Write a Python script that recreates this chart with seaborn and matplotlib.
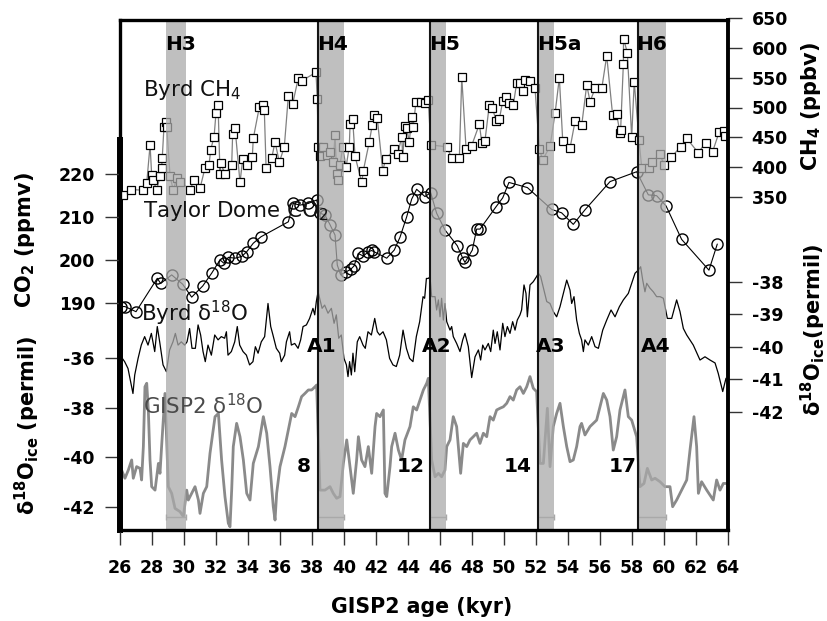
import matplotlib
matplotlib.use("Agg")
import matplotlib.pyplot as plt
import seaborn as sns
import pandas as pd

# ------------------------------------------------------------------ data
ch4_age = [26.21, 26.67, 27.42, 27.67, 27.88, 27.98, 28.08, 28.29, 28.50, 28.60,
           28.64, 28.75, 28.86, 28.92, 29.13, 29.33, 29.54, 29.75, 30.38, 30.64,
           31.00, 31.31, 31.56, 31.67, 31.88, 32.00, 32.13, 32.25, 32.29, 32.56,
           32.98, 33.04, 33.19, 33.50, 33.67, 33.92, 34.27, 34.33, 34.71, 34.92,
           35.02, 35.13, 35.48, 35.69, 35.96, 36.27, 36.52, 36.79, 37.14, 37.36,
           38.25, 38.33, 38.39, 38.50, 38.71, 38.92, 39.13, 39.33, 39.44, 39.54,
           39.64, 39.75, 39.92, 40.13, 40.33, 40.38, 40.54, 40.69, 41.11, 41.21,
           41.58, 41.77, 41.89, 42.08, 42.42, 42.61, 43.14, 43.36, 43.61, 43.67,
           43.81, 43.92, 44.08, 44.23, 44.33, 44.50, 44.79, 45.06, 45.27, 45.42,
           46.42, 46.73, 47.21, 47.36, 47.63, 47.98, 48.46, 48.61, 48.81, 49.08,
           49.27, 49.50, 49.71, 49.92, 50.11, 50.31, 50.58, 50.79, 51.00, 51.21,
           51.31, 51.63, 51.94, 52.21, 52.42, 52.88, 53.19, 53.46, 53.67, 54.13,
           54.44, 54.86, 55.17, 55.38, 55.69, 56.11, 56.42, 56.79, 57.04, 57.25,
           57.29, 57.46, 57.47, 57.71, 57.98, 58.14, 58.44, 58.61, 59.06, 59.27,
           59.75, 60.00, 60.44, 61.04, 61.42, 62.14, 62.61, 63.04, 63.44, 63.75,
           63.81]
ch4_ppbv = [353, 362, 361, 373, 437, 386, 378, 361, 384, 398,
            415, 468, 476, 467, 384, 361, 381, 375, 362, 378,
            364, 398, 403, 429, 451, 491, 504, 388, 407, 388,
            403, 455, 466, 374, 413, 403, 417, 448, 501, 505,
            495, 399, 415, 442, 408, 434, 519, 506, 549, 545,
            559, 514, 434, 418, 433, 420, 426, 409, 454, 389,
            378, 403, 433, 400, 434, 472, 481, 418, 374, 394,
            442, 471, 487, 482, 394, 413, 430, 422, 451, 417,
            469, 465, 442, 484, 468, 510, 510, 508, 513, 437,
            434, 415, 415, 551, 430, 436, 472, 441, 444, 504,
            500, 478, 480, 511, 518, 507, 504, 541, 541, 527,
            546, 544, 532, 430, 412, 435, 490, 550, 444, 432,
            477, 471, 538, 510, 532, 532, 587, 487, 489, 457,
            463, 573, 616, 592, 450, 543, 445, 398, 398, 409,
            421, 404, 416, 434, 448, 424, 441, 426, 458, 461,
            452]

co2_age = [26.04, 26.31, 27.00, 28.33, 28.54, 29.23, 29.92, 30.48, 31.17, 31.73,
           32.25, 32.50, 32.77, 33.19, 33.60, 33.92, 34.33, 34.81, 36.52, 36.83,
           37.25, 37.77, 38.29, 38.50, 38.81, 39.13, 39.44, 39.58, 39.79, 40.13,
           40.42, 40.63, 40.89, 41.21, 41.52, 41.73, 41.88, 42.67, 43.14, 43.50,
           43.92, 44.23, 44.54, 45.06, 45.42, 45.79, 46.31, 47.08, 47.42, 47.56,
           48.02, 48.29, 48.50, 49.50, 49.92, 50.31, 51.46, 52.98, 53.60, 54.33,
           55.06, 56.63, 58.29, 59.02, 59.54, 60.13, 61.10, 62.81, 63.33]
co2_ppmv = [189.1, 189.1, 187.9, 195.7, 194.5, 196.5, 194.3, 191.3, 193.9, 196.9,
            200.0, 199.2, 200.6, 200.4, 200.8, 201.9, 203.9, 205.4, 208.9, 213.2,
            212.8, 213.2, 214.0, 210.9, 210.5, 208.2, 205.8, 198.8, 196.5, 197.2,
            197.8, 198.6, 201.5, 200.9, 201.9, 202.2, 201.9, 200.4, 202.3, 205.3,
            210.1, 214.2, 216.5, 214.8, 215.7, 210.9, 207.0, 203.3, 200.4, 199.4,
            202.3, 207.2, 207.2, 212.4, 214.5, 218.1, 216.9, 211.8, 211.0, 208.3,
            211.7, 218.3, 220.6, 215.2, 215.0, 212.6, 204.8, 197.6, 203.7]

byrd_age = [26.00, 26.29, 26.50, 26.81, 26.92, 27.13, 27.33, 27.54, 27.75, 27.96,
            28.17, 28.33, 28.48, 28.69, 28.90, 29.10, 29.31, 29.46, 29.63, 29.83,
            30.04, 30.19, 30.35, 30.50, 30.71, 30.88, 31.04, 31.19, 31.33, 31.50,
            31.71, 31.92, 32.13, 32.33, 32.54, 32.65, 32.75, 32.96, 33.17, 33.33,
            33.48, 33.69, 33.90, 34.10, 34.31, 34.46, 34.63, 34.83, 35.04, 35.25,
            35.42, 35.56, 35.77, 35.98, 36.08, 36.29, 36.40, 36.60, 36.71, 36.92,
            37.13, 37.29, 37.44, 37.65, 37.85, 38.06, 38.17, 38.27, 38.38, 38.48,
            38.63, 38.79, 39.00, 39.21, 39.38, 39.52, 39.67, 39.83, 40.00, 40.15,
            40.25, 40.35, 40.46, 40.56, 40.67, 40.83, 40.98, 41.19, 41.33, 41.50,
            41.71, 41.92, 42.08, 42.23, 42.44, 42.65, 42.85, 43.06, 43.27, 43.48,
            43.69, 43.90, 44.10, 44.31, 44.52, 44.73, 44.94, 45.04, 45.15, 45.27,
            45.375, 45.48, 45.69, 45.79, 45.90, 46.00, 46.10, 46.21, 46.31, 46.42,
            46.625, 46.73, 46.83, 47.04, 47.25, 47.42, 47.56, 47.77, 47.98, 48.19,
            48.40, 48.54, 48.67, 48.81, 49.02, 49.17, 49.33, 49.44, 49.58, 49.75,
            49.92, 50.06, 50.21, 50.375, 50.54, 50.69, 50.83, 51.00, 51.10, 51.25,
            51.375, 51.46, 51.625, 51.83, 52.04, 52.15, 52.29, 52.50, 52.67, 52.875,
            53.08, 53.29, 53.50, 53.71, 53.92, 54.125, 54.23, 54.375, 54.54, 54.71,
            54.85, 54.96, 55.06, 55.27, 55.48, 55.69, 55.90, 56.17, 56.42, 56.69,
            56.94, 57.21, 57.46, 57.77, 57.98, 58.19, 58.40, 58.54, 58.67, 58.81,
            58.92, 59.125, 59.33, 59.54, 59.75, 59.96, 60.21, 60.48, 60.79, 61.00,
            61.21, 61.42, 61.83, 62.25, 62.56, 62.875, 63.19, 63.39, 63.67, 63.875]
byrd_d18o = [-40.26, -40.46, -40.67, -41.44, -40.87, -40.36, -39.95, -39.69, -39.95, -39.59,
             -40.15, -39.38, -39.85, -40.56, -40.77, -40.10, -39.85, -39.59, -39.95, -39.85,
             -39.95, -39.85, -39.44, -40.05, -40.05, -39.33, -39.64, -40.15, -40.46, -39.95,
             -40.26, -39.64, -39.79, -39.69, -39.74, -39.54, -40.26, -40.15, -39.85, -39.38,
             -39.95, -40.15, -40.26, -40.56, -40.46, -40.00, -40.20, -39.85, -39.69, -38.67,
             -39.38, -39.64, -40.05, -40.20, -40.46, -40.26, -39.85, -39.54, -39.95, -39.90,
             -40.05, -39.79, -39.38, -39.33, -39.13, -38.82, -39.02, -38.61, -38.31, -38.51,
             -38.82, -38.72, -38.97, -38.82, -39.28, -39.02, -39.74, -39.64, -40.36, -40.56,
             -40.92, -40.46, -40.87, -40.20, -40.77, -39.85, -39.69, -39.95, -40.05, -39.54,
             -39.64, -39.13, -39.54, -39.64, -39.54, -39.79, -40.36, -40.56, -40.61, -40.26,
             -39.49, -40.05, -40.36, -40.46, -39.69, -39.23, -38.46, -38.51, -37.90, -37.90,
             -37.85, -38.46, -38.46, -38.87, -38.56, -39.08, -38.51, -39.18, -38.67, -39.23,
             -39.49, -39.38, -39.69, -39.90, -40.15, -39.79, -39.59, -40.00, -40.95, -40.31,
             -40.10, -40.41, -39.95, -40.10, -39.90, -40.15, -39.49, -39.90, -39.54, -40.10,
             -39.28, -39.69, -39.38, -39.59, -39.23, -39.49, -39.18, -39.02, -38.87, -38.10,
             -38.36, -39.08, -38.10, -38.00, -37.84, -37.74, -37.84, -38.26, -38.61, -38.67,
             -38.92, -39.08, -38.77, -38.36, -37.95, -38.26, -38.67, -38.46, -39.18, -39.59,
             -39.79, -40.15, -39.79, -39.95, -39.69, -40.00, -40.05, -39.49, -39.18, -38.87,
             -39.08, -38.77, -38.56, -38.36, -38.05, -37.74, -37.64, -37.54, -37.95, -38.31,
             -38.05, -38.20, -38.31, -38.46, -38.46, -38.51, -39.13, -39.13, -38.56, -38.92,
             -39.44, -39.64, -39.95, -40.41, -40.31, -40.41, -40.50, -40.82, -41.38, -40.97]

gisp_age = [26.10, 26.31, 26.52, 26.73, 26.83, 27.04, 27.25, 27.35, 27.46, 27.56,
            27.67, 27.77, 27.875, 27.98, 28.19, 28.40, 28.50, 28.60, 28.81, 29.02,
            29.23, 29.44, 29.75, 29.96, 30.17, 30.27, 30.48, 30.69, 30.90, 31.00,
            31.21, 31.42, 31.625, 31.94, 32.15, 32.35, 32.56, 32.77, 32.875, 32.98,
            33.08, 33.29, 33.50, 33.71, 33.92, 34.125, 34.33, 34.65, 34.96, 35.17,
            35.375, 35.58, 35.69, 35.79, 36.00, 36.31, 36.52, 36.73, 36.94, 37.15,
            37.35, 37.56, 37.77, 37.98, 38.19, 38.29, 38.50, 38.81, 39.125, 39.33,
            39.54, 39.75, 39.96, 40.17, 40.375, 40.58, 40.79, 40.90, 41.10, 41.31,
            41.52, 41.73, 41.94, 42.04, 42.25, 42.46, 42.56, 42.67, 42.875, 42.98,
            43.19, 43.40, 43.60, 43.81, 44.125, 44.33, 44.54, 44.75, 44.96, 45.17,
            45.27, 45.48, 45.69, 45.90, 46.10, 46.31, 46.42, 46.625, 46.83, 47.04,
            47.15, 47.29, 47.46, 47.67, 47.875, 48.08, 48.29, 48.50, 48.71, 48.92,
            49.125, 49.33, 49.54, 49.75, 49.96, 50.17, 50.375, 50.58, 50.79, 51.00,
            51.21, 51.42, 51.625, 51.83, 52.04, 52.25, 52.46, 52.71, 52.875, 53.08,
            53.29, 53.50, 53.71, 53.92, 54.125, 54.33, 54.54, 54.75, 54.85, 55.06,
            55.375, 55.79, 56.00, 56.21, 56.42, 56.625, 56.83, 57.04, 57.25, 57.56,
            57.77, 57.98, 58.29, 58.50, 58.75, 58.96, 59.23, 59.44, 59.75, 60.06,
            60.375, 60.54, 60.79, 61.10, 61.42, 61.625, 61.875, 62.04, 62.15, 62.35,
            62.67, 63.08, 63.29, 63.50, 63.71, 63.92]
gisp_d18o = [-40.52, -40.85, -40.52, -40.11, -40.85, -40.38, -40.45, -40.92, -39.57, -37.15,
             -37.01, -38.09, -40.11, -41.19, -41.33, -40.25, -40.65, -39.57, -37.42, -41.19,
             -41.46, -42.07, -42.20, -42.40, -41.33, -41.73, -41.46, -41.19, -41.73, -42.27,
             -41.46, -41.19, -39.84, -38.36, -38.23, -40.11, -41.59, -42.67, -42.81, -41.33,
             -39.57, -38.63, -39.17, -40.11, -41.46, -41.73, -40.25, -39.57, -38.36, -39.03,
             -40.38, -42.00, -42.54, -41.46, -40.38, -39.57, -38.90, -38.23, -38.36, -37.96,
             -37.55, -37.42, -37.28, -37.28, -37.15, -37.08, -41.33, -41.33, -41.19, -41.46,
             -41.66, -41.59, -40.25, -39.30, -40.38, -41.46, -40.11, -39.17, -40.11, -40.38,
             -39.57, -40.65, -38.76, -38.23, -38.36, -38.09, -41.46, -41.59, -40.38, -39.57,
             -39.03, -39.71, -40.11, -39.30, -38.76, -37.96, -38.09, -37.69, -37.28, -37.01,
             -36.81, -40.11, -40.79, -40.65, -40.79, -40.52, -39.57, -39.30, -38.36, -38.76,
             -39.57, -40.65, -39.44, -39.57, -39.30, -39.17, -39.03, -39.44, -39.03, -39.17,
             -38.36, -38.50, -38.09, -38.02, -37.96, -37.82, -37.55, -37.69, -37.28, -37.15,
             -37.42, -37.15, -36.74, -37.21, -37.35, -40.25, -40.25, -38.02, -40.38, -38.76,
             -38.23, -37.82, -38.76, -39.57, -40.18, -40.11, -39.57, -38.76, -38.63, -39.10,
             -38.76, -38.50, -37.96, -37.42, -37.69, -38.36, -39.71, -39.17, -38.09, -37.28,
             -38.36, -38.50, -39.17, -41.19, -41.06, -40.45, -40.92, -40.85, -40.99, -41.19,
             -41.19, -42.00, -41.73, -41.33, -40.92, -39.71, -38.36, -39.57, -41.46, -40.99,
             -41.33, -41.73, -40.92, -41.33, -41.06, -41.06]

event_names = ["H3", "H4", "H5", "H5a", "H6"]
event_start = [28.9, 38.4, 45.4, 52.15, 58.35]
event_end = [30.1, 40.0, 46.4, 53.1, 60.15]
event_lines = [38.4, 45.4, 52.15, 58.35]
event_bar_level = -42.42
aim_names = ["A1", "A2", "A3", "A4"]
aim_age = [38.6, 45.77, 52.93, 59.5]
do_names = ["8", "12", "14", "17"]
do_age = [37.92, 45.06, 51.73, 58.3]

x_ticks = list(range(26, 65, 2))
co2_ticks = [190, 200, 210, 220]
gisp_ticks = [-42, -40, -38, -36]
ch4_ticks = [350, 400, 450, 500, 550, 600, 650]
byrd_ticks = [-42, -41, -40, -39, -38]

# ------------------------------------------------------------------ style
sns.set_theme(style="white")
plt.rcParams["font.family"] = ["DejaVu Sans"]
plt.rcParams["mathtext.fontset"] = "dejavusans"
plt.rcParams["axes.unicode_minus"] = False
plt.rcParams["text.color"] = "black"
plt.rcParams["axes.labelcolor"] = "black"
plt.rcParams["xtick.color"] = "black"
plt.rcParams["ytick.color"] = "black"

W, H = 828, 621
fig = plt.figure(figsize=(W / 100, H / 100), dpi=100)
fig.patch.set_facecolor("white")


def rect(l, t, r, b):
    return [l / W, 1 - b / H, (r - l) / W, (b - t) / H]


S_TOP, S_BOT = 18.0, 529.5


def lims(v1, p1, v2, p2):
    s = (v1 - v2) / (p2 - p1)
    return (v1 - (S_BOT - p1) * s, v1 + (p1 - S_TOP) * s)


def series_axes(z):
    ax = fig.add_axes(rect(120, S_TOP, 728, S_BOT))
    ax.set_zorder(z)
    ax.patch.set_visible(False)
    for sp in ax.spines.values():
        sp.set_visible(False)
    return ax


TICK_KW = dict(direction="out", width=1.0, color="#333333", labelsize=12.5,
               labelcolor="black")

# --- GISP2 (left, lower)
ax_g = series_axes(1)
df_g = pd.DataFrame({"age": gisp_age, "d18o": gisp_d18o})
sns.lineplot(data=df_g, x="age", y="d18o", ax=ax_g, sort=False, estimator=None,
             color="#8a8a8a", lw=2.0)
for s, e in zip(event_start, event_end):
    ax_g.errorbar([(s + e) / 2], [event_bar_level], xerr=[(e - s) / 2],
                  color="#a8a8a8", lw=1.0, capsize=2.5, capthick=1.0)
g_lim = lims(-36, 358.3, -42, 506.7)
ax_g.set_ylim(g_lim)

# --- CO2 (left, upper)
ax_c = series_axes(2)
df_c = pd.DataFrame({"age": co2_age, "co2": co2_ppmv})
sns.lineplot(data=df_c, x="age", y="co2", ax=ax_c, sort=False, estimator=None,
             color="black", lw=0.8, marker="o", markersize=8,
             markerfacecolor="none", markeredgecolor="black", markeredgewidth=1.0)
ax_c.set_ylim(lims(220, 174.3, 190, 302.7))

# --- Byrd d18O (right, lower)
ax_b = series_axes(3)
df_b = pd.DataFrame({"age": byrd_age, "d18o": byrd_d18o})
sns.lineplot(data=df_b, x="age", y="d18o", ax=ax_b, sort=False, estimator=None,
             color="black", lw=0.9)
ax_b.set_ylim(lims(-38, 281.7, -42, 411.7))

# --- Byrd CH4 (right, upper)
ax_m = series_axes(4)
df_m = pd.DataFrame({"age": ch4_age, "ch4": ch4_ppbv})
sns.lineplot(data=df_m, x="age", y="ch4", ax=ax_m, sort=False, estimator=None,
             color="#808080", lw=0.9, marker="s", markersize=6.2,
             markerfacecolor="white", markeredgecolor="black", markeredgewidth=0.9)
ax_m.set_ylim(lims(650, 18.3, 350, 196.7))

for ax in (ax_g, ax_c, ax_b, ax_m):
    ax.set_xlim(26, 64)
    ax.set_xticks([])
    ax.set_xlabel("")
    ax.set_ylabel("")

for ax, ticks in ((ax_g, gisp_ticks), (ax_c, co2_ticks)):
    ax.set_yticks(ticks)
    ax.set_yticklabels([str(t) for t in ticks], fontweight="bold")
    ax.tick_params(axis="y", left=True, right=False, labelleft=True,
                   labelright=False, length=11, pad=7, **TICK_KW)

for ax, ticks in ((ax_b, byrd_ticks), (ax_m, ch4_ticks)):
    ax.yaxis.tick_right()
    ax.set_yticks(ticks)
    ax.set_yticklabels([str(t) for t in ticks], fontweight="bold")
    ax.tick_params(axis="y", left=False, right=True, labelleft=False,
                   labelright=True, length=10, pad=7, **TICK_KW)

# thick left axis segment
ax_g.spines["left"].set_visible(True)
ax_g.spines["left"].set_linewidth(4.3)
ax_g.spines["left"].set_color("black")
ax_g.spines["left"].set_bounds(g_lim[0], -36 + (358.3 - 140) * 6 / 148.4)

# --- frame axes on top: bands, event lines, annotations, x axis
ax_f = fig.add_axes(rect(120, 20, 728, S_BOT))
ax_f.set_zorder(10)
ax_f.patch.set_visible(False)
ax_f.set_xlim(26, 64)
ax_f.set_ylim(0, 1)
ax_f.set_yticks([])
ax_f.set_xticks(x_ticks)
ax_f.set_xticklabels([str(t) for t in x_ticks], fontweight="bold")
ax_f.tick_params(axis="x", bottom=True, top=False, length=11, pad=10, **TICK_KW)
for name, sp in ax_f.spines.items():
    sp.set_visible(True)
    sp.set_color("black")
    sp.set_linewidth(2.4)
ax_f.spines["right"].set_linewidth(2.8)

for s, e in zip(event_start, event_end):
    ax_f.axvspan(s, e, color=(0.667, 0.667, 0.667), alpha=0.75, lw=0, zorder=1)
for x in event_lines:
    ax_f.axvline(x, color="#151515", lw=1.5, zorder=2)

for name, s in zip(event_names, event_start):
    ax_f.text(s - 0.1, 0.941, name, fontsize=14.5, fontweight="bold",
              color="black", ha="left", va="baseline", zorder=5)
for name, x in zip(aim_names, aim_age):
    ax_f.text(x, 0.349, name, fontsize=14.5, fontweight="bold",
              color="black", ha="center", va="baseline", zorder=5)
for name, x in zip(do_names, do_age):
    ax_f.text(x, 0.1134, name, fontsize=14.5, fontweight="bold",
              color="black", ha="right", va="baseline", zorder=5)

LBL = dict(fontsize=15.4, ha="left", va="baseline", zorder=5,
           transform=ax_f.transAxes)
ax_f.text(0.0372, 0.8514, "Byrd CH$_4$", color="#111111", **LBL)
ax_f.text(0.0384, 0.6127, "Taylor Dome CO$_2$", color="#111111", **LBL)
ax_f.text(0.0350, 0.4092, "Byrd \u03b4$^{18}$O", color="#111111", **LBL)
ax_f.text(0.0384, 0.2267, "GISP2 \u03b4$^{18}$O", color="#4a4a4a", **LBL)

# axis titles
fig.text(421.5 / W, 1 - 607 / H, "GISP2 age (kyr)", fontsize=14.8,
         fontweight="bold", color="black", ha="center", va="center")
fig.text(25 / W, 1 - 240 / H, r"CO$_\mathbf{2}$ (ppmv)", fontsize=15,
         fontweight="bold", color="black", rotation=90, ha="center", va="center")
fig.text(27 / W, 1 - 425 / H, "\u03b4" + r"$^{\mathbf{18}}$O$_{\mathbf{ice}}$ (permil)",
         fontsize=15, fontweight="bold", color="black", rotation=90,
         ha="center", va="center")
fig.text(811 / W, 1 - 107 / H, r"CH$_\mathbf{4}$ (ppbv)", fontsize=15,
         fontweight="bold", color="black", rotation=90, ha="center", va="center")
fig.text(813 / W, 1 - 330 / H, "\u03b4" + r"$^{\mathbf{18}}$O$_{\mathbf{ice}}$(permil)",
         fontsize=15, fontweight="bold", color="black", rotation=90,
         ha="center", va="center")

fig.savefig("out.png", dpi=100, facecolor="white")
